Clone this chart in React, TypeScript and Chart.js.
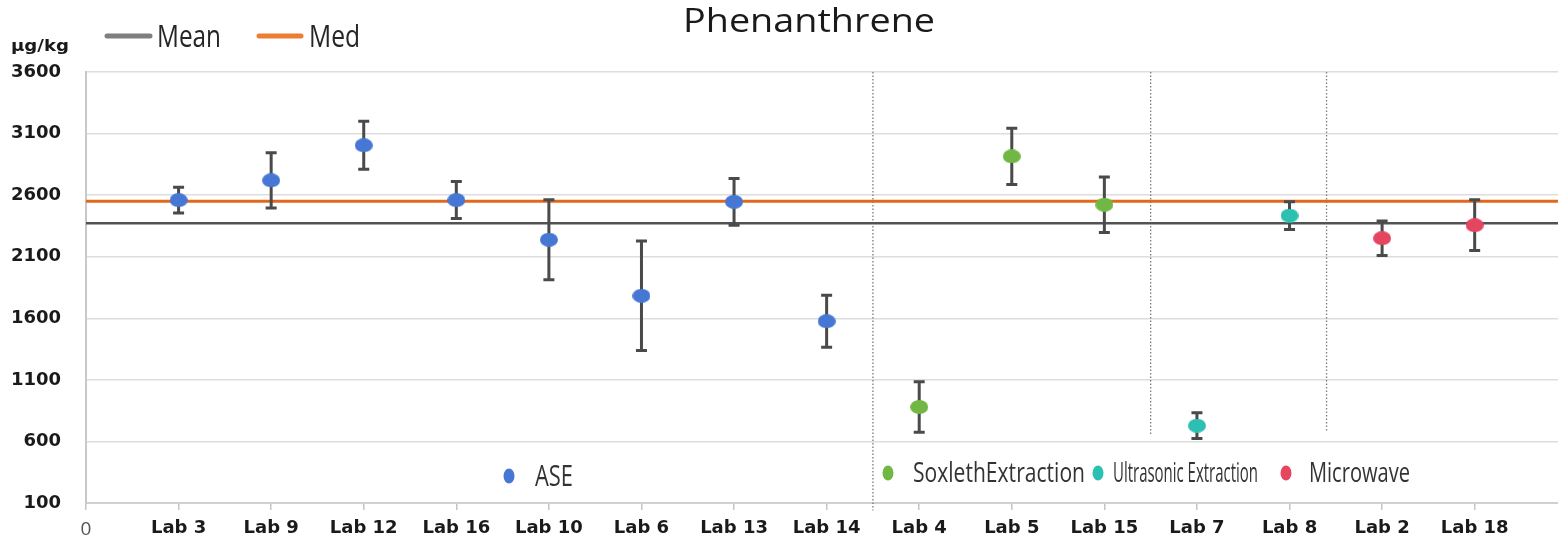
import React, { useEffect, useRef } from 'react';
import { Chart, registerables } from 'chart.js';

Chart.register(...registerables);

// lab order as on the x axis
const labs = ['Lab 3', 'Lab 9', 'Lab 12', 'Lab 16', 'Lab 10', 'Lab 6', 'Lab 13', 'Lab 14', 'Lab 4', 'Lab 5', 'Lab 15', 'Lab 7', 'Lab 8', 'Lab 2', 'Lab 18'];
// 0 = ASE, 1 = Soxhlet, 2 = Ultrasonic, 3 = Microwave
const labMethod = [0, 0, 0, 0, 0, 0, 0, 0, 1, 1, 1, 2, 2, 3, 3];
const results = [2560, 2720, 3005, 2560, 2238, 1783, 2546, 1576, 880, 2915, 2522, 728, 2434, 2250, 2356];
const uncertainty = [105, 225, 195, 150, 325, 445, 190, 212, 205, 228, 225, 105, 112, 140, 206];

const methodNames = ['ASE', 'SoxlethExtraction', 'Ultrasonic Extraction', 'Microwave'];
const methodColors = ['#4677d4', '#70b843', '#2cc0b3', '#e5455f'];

const meanValue = 2372;
const medianValue = 2551;

const yTicks = { min: 100, max: 3600, step: 500 };
const xMax = 15.9;

// dotted separators between method groups, with the value where each ends
const dividerAt = [8.5, 11.5, 13.4];
const dividerEnd = [40, 655, 688];

function ellipseDot(color: string, w: number, h: number) {
  const c = document.createElement('canvas');
  c.width = w;
  c.height = h;
  const ctx = c.getContext('2d')!;
  ctx.fillStyle = color;
  ctx.beginPath();
  ctx.ellipse(w / 2, h / 2, w / 2, h / 2, 0, 0, Math.PI * 2);
  ctx.fill();
  return c;
}

function fitText(ctx: CanvasRenderingContext2D, text: string, x: number, y: number, width: number, font: string, color: string) {
  ctx.save();
  ctx.font = font;
  ctx.fillStyle = color;
  ctx.textBaseline = 'alphabetic';
  ctx.textAlign = 'left';
  const w = ctx.measureText(text).width;
  ctx.translate(x, y);
  ctx.scale(width / w, 1);
  ctx.fillText(text, 0, 0);
  ctx.restore();
}

const overlay = {
  id: 'overlay',
  beforeDatasetsDraw(chart: any) {
    const { ctx, scales } = chart;
    const x = scales.x, y = scales.y;
    ctx.save();
    ctx.strokeStyle = '#7a7a7a';
    ctx.lineWidth = 1.3;
    ctx.setLineDash([1.5, 2]);
    dividerAt.forEach((v, i) => {
      const px = x.getPixelForValue(v);
      ctx.beginPath();
      ctx.moveTo(px, y.getPixelForValue(yTicks.max));
      ctx.lineTo(px, y.getPixelForValue(dividerEnd[i]));
      ctx.stroke();
    });
    ctx.restore();
  },
  afterDatasetDraw(chart: any, args: any) {
    if (chart.data.datasets[args.index].label !== 'Med') return;
    const { ctx, scales } = chart;
    const x = scales.x, y = scales.y;
    ctx.save();
    ctx.strokeStyle = '#4a4a4a';
    ctx.lineWidth = 3;
    results.forEach((v, i) => {
      const px = x.getPixelForValue(i + 1);
      const top = y.getPixelForValue(v + uncertainty[i]);
      const bot = y.getPixelForValue(v - uncertainty[i]);
      ctx.beginPath();
      ctx.moveTo(px, top);
      ctx.lineTo(px, bot);
      ctx.moveTo(px - 5.5, top);
      ctx.lineTo(px + 5.5, top);
      ctx.moveTo(px - 5.5, bot);
      ctx.lineTo(px + 5.5, bot);
      ctx.stroke();
    });
    ctx.restore();
  },
  afterDraw(chart: any) {
    const ctx: CanvasRenderingContext2D = chart.ctx;
    // title
    fitText(ctx, 'Phenanthrene', 683, 32, 252, '32px "Open Sans"', '#1a1a1a');
    // unit
    fitText(ctx, 'μg/kg', 11, 51, 58, 'bold 16px "DejaVu Sans"', '#1a1a1a');
    // Mean / Med legend
    ctx.save();
    ctx.lineCap = 'round';
    ctx.lineWidth = 5;
    ctx.strokeStyle = '#7f7f7f';
    ctx.beginPath();
    ctx.moveTo(107, 36);
    ctx.lineTo(150, 36);
    ctx.stroke();
    ctx.strokeStyle = '#ed7d31';
    ctx.beginPath();
    ctx.moveTo(259, 36);
    ctx.lineTo(301, 36);
    ctx.stroke();
    ctx.restore();
    fitText(ctx, 'Mean', 157, 47, 64, '31px "Open Sans"', '#262626');
    fitText(ctx, 'Med', 309, 47, 51, '31px "Open Sans"', '#262626');
    // method legend inside the plot
    const items = [
      { dot: [509, 476], tx: 535, w: 38, base: 486, size: 29 },
      { dot: [888, 473], tx: 913, w: 172, base: 482, size: 27 },
      { dot: [1098, 473], tx: 1113, w: 145, base: 482, size: 27 },
      { dot: [1286, 473], tx: 1309, w: 101, base: 482, size: 27 },
    ];
    items.forEach((it, i) => {
      ctx.save();
      ctx.fillStyle = methodColors[i];
      ctx.beginPath();
      ctx.ellipse(it.dot[0], it.dot[1], 5.5, 7.5, 0, 0, Math.PI * 2);
      ctx.fill();
      ctx.restore();
      fitText(ctx, methodNames[i], it.tx, it.base, it.w, `${it.size}px "Open Sans"`, '#333333');
    });
  },
};

export default function App() {
  const canvasRef = useRef<HTMLCanvasElement>(null);

  useEffect(() => {
    document.body.style.margin = '0';
    if (!canvasRef.current) return;

    const pointDatasets = methodNames.map((name, m) => {
      const marker = ellipseDot(methodColors[m], 18, 14);
      return {
        type: 'scatter' as const,
        label: name,
        data: labs
          .map((_, i) => ({ x: i + 1, y: results[i], m: labMethod[i] }))
          .filter((p) => p.m === m)
          .map((p) => ({ x: p.x, y: p.y })),
        pointStyle: marker,
        pointRadius: 8,
        backgroundColor: methodColors[m],
        borderColor: methodColors[m],
        order: 0,
      };
    });

    const chart = new Chart(canvasRef.current, {
      type: 'scatter',
      data: {
        datasets: [
          ...pointDatasets,
          {
            type: 'line' as const,
            label: 'Med',
            data: [{ x: 0, y: medianValue }, { x: xMax, y: medianValue }],
            borderColor: '#e0691d',
            borderWidth: 3,
            pointRadius: 0,
            order: 1,
          },
          {
            type: 'line' as const,
            label: 'Mean',
            data: [{ x: 0, y: meanValue }, { x: xMax, y: meanValue }],
            borderColor: '#525252',
            borderWidth: 2.5,
            pointRadius: 0,
            order: 2,
          },
        ] as any,
      },
      options: {
        animation: false,
        responsive: false,
        layout: { autoPadding: false, padding: { top: 72, left: 0, right: 0, bottom: 0 } },
        plugins: {
          legend: { display: false },
          tooltip: { enabled: false },
          title: { display: false },
        },
        scales: {
          x: {
            type: 'linear',
            min: 0,
            max: xMax,
            afterFit: (s: any) => {
              s.height = 38;
              s.paddingLeft = 0;
              s.paddingRight = 0;
            },
            grid: { drawOnChartArea: false, drawTicks: true, tickLength: 7, color: '#c4c4c4', lineWidth: 1.5 },
            border: { display: true, color: '#d0d0d0', width: 2 },
            ticks: {
              stepSize: 1,
              includeBounds: false,
              autoSkip: false,
              maxRotation: 0,
              padding: 8,
              color: (c: any) => (c.tick && c.tick.value === 0 ? '#555555' : '#1a1a1a'),
              font: (c: any) => (c.tick && c.tick.value === 0
                ? { family: '"Open Sans"', size: 19, weight: 'normal' }
                : { family: '"DejaVu Sans"', size: 18, weight: 'bold' }) as any,
              callback: (v: any) => {
                const n = Number(v);
                if (n === 0) return '0';
                if (Number.isInteger(n) && n >= 1 && n <= labs.length) return labs[n - 1];
                return '';
              },
            },
          },
          y: {
            type: 'linear',
            min: yTicks.min,
            max: yTicks.max,
            afterFit: (s: any) => {
              s.width = 86;
              s.paddingTop = 0;
              s.paddingBottom = 0;
            },
            grid: { color: '#dddddd', lineWidth: 1.5, drawTicks: false },
            border: { display: true, color: '#c8c8c8', width: 2 },
            ticks: {
              stepSize: yTicks.step,
              padding: 25,
              color: '#1a1a1a',
              font: { family: '"DejaVu Sans"', size: 18, weight: 'bold' },
              callback: (v: any) => String(v),
            },
          },
        },
      },
      plugins: [overlay],
    });

    return () => {
      chart.destroy();
    };
  }, []);

  return (
    <div style={{ width: 1558, height: 541 }}>
      <canvas ref={canvasRef} width={1558} height={541} style={{ display: 'block' }} />
    </div>
  );
}
